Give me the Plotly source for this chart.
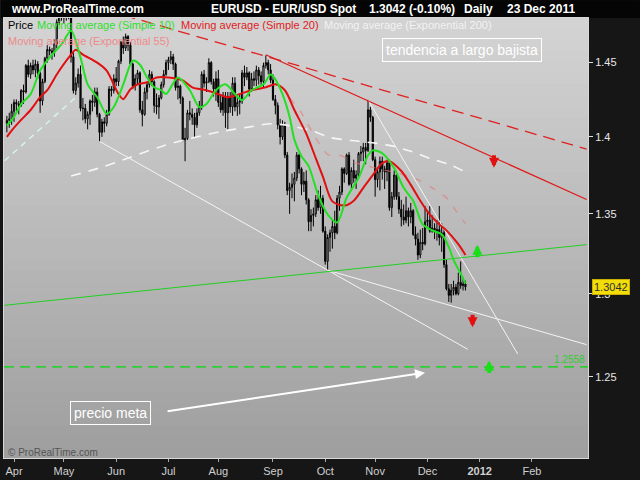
import math
import pandas as pd
import plotly.graph_objects as go

# ---------------- data ----------------
first_day = "2011-03-29"
last_day = "2011-12-23"

opens = [1.4090, 1.4110, 1.4120,
         1.4170, 1.4230, 1.4220, 1.4210, 1.4310, 1.4300, 1.4480, 1.4420, 1.4480, 1.4450, 1.4490, 1.4430, 1.4240, 1.4370, 1.4530, 1.4590, 1.4580, 1.4570, 1.4630, 1.4780, 1.4830,
         1.4810, 1.4840, 1.4820, 1.4830, 1.4540, 1.4310, 1.4360, 1.4420, 1.4190, 1.4190, 1.4120, 1.4150, 1.4240, 1.4230, 1.4300, 1.4150, 1.4030, 1.4100, 1.4090, 1.4150, 1.4320, 1.4310,
         1.4390, 1.4370, 1.4510, 1.4640, 1.4600, 1.4680, 1.4620, 1.4490, 1.4340, 1.4390, 1.4430, 1.4180, 1.4150, 1.4300, 1.4350, 1.4420, 1.4370, 1.4210, 1.4200, 1.4260, 1.4350, 1.4420,
         1.4500, 1.4520, 1.4540, 1.4490, 1.4330, 1.4340, 1.4260, 1.3980, 1.3990, 1.4160, 1.4150, 1.4130, 1.4080, 1.4160, 1.4200, 1.4420, 1.4360, 1.4370, 1.4500, 1.4370, 1.4320,
         1.4390, 1.4230, 1.4180, 1.4270, 1.4160, 1.4270, 1.4200, 1.4360, 1.4200, 1.4230, 1.4240, 1.4430, 1.4400, 1.4430, 1.4320, 1.4390, 1.4380, 1.4450, 1.4410, 1.4370, 1.4480, 1.4500, 1.4450,
         1.4380, 1.4250, 1.4210, 1.4080, 1.4000, 1.4080, 1.3880, 1.3650, 1.3670, 1.3690, 1.3730, 1.3880, 1.3790, 1.3690, 1.3710, 1.3590, 1.3450, 1.3490, 1.3500, 1.3590, 1.3540, 1.3600,
         1.3390, 1.3200, 1.3350, 1.3380, 1.3420, 1.3380, 1.3600, 1.3640, 1.3790, 1.3760, 1.3880, 1.3690, 1.3780, 1.3730, 1.3750, 1.3890, 1.3900, 1.3930, 1.3910, 1.4180, 1.4130,
         1.3850, 1.3720, 1.3770, 1.3840, 1.3790, 1.3770, 1.3830, 1.3540, 1.3610, 1.3750, 1.3610, 1.3530, 1.3480, 1.3460, 1.3520, 1.3480, 1.3520, 1.3370, 1.3340, 1.3240, 1.3320, 1.3310,
         1.3450, 1.3460, 1.3390, 1.3410, 1.3390, 1.3400, 1.3350, 1.3380, 1.3180, 1.3030, 1.2990, 1.3020, 1.3040, 1.3000, 1.3070, 1.3050, 1.3060]

highs = [1.4140, 1.4160, 1.4220,
         1.4250, 1.4250, 1.4240, 1.4320, 1.4350, 1.4490, 1.4520, 1.4500, 1.4520, 1.4520, 1.4510, 1.4440, 1.4390, 1.4540, 1.4620, 1.4610, 1.4600, 1.4660, 1.4800, 1.4880, 1.4880,
         1.4860, 1.4880, 1.4940, 1.4850, 1.4570, 1.4400, 1.4460, 1.4480, 1.4260, 1.4220, 1.4170, 1.4250, 1.4280, 1.4330, 1.4330, 1.4160, 1.4120, 1.4130, 1.4180, 1.4340, 1.4340, 1.4420,
         1.4470, 1.4520, 1.4650, 1.4680, 1.4700, 1.4690, 1.4640, 1.4500, 1.4420, 1.4450, 1.4440, 1.4240, 1.4330, 1.4370, 1.4450, 1.4440, 1.4380, 1.4290, 1.4280, 1.4370, 1.4450, 1.4520,
         1.4540, 1.4580, 1.4560, 1.4500, 1.4400, 1.4350, 1.4270, 1.4060, 1.4180, 1.4240, 1.4190, 1.4160, 1.4190, 1.4240, 1.4440, 1.4450, 1.4400, 1.4530, 1.4510, 1.4390, 1.4440,
         1.4450, 1.4280, 1.4300, 1.4300, 1.4300, 1.4300, 1.4400, 1.4400, 1.4280, 1.4290, 1.4450, 1.4480, 1.4470, 1.4440, 1.4430, 1.4440, 1.4480, 1.4470, 1.4440, 1.4500, 1.4550, 1.4520, 1.4490,
         1.4420, 1.4280, 1.4230, 1.4120, 1.4110, 1.4100, 1.3900, 1.3700, 1.3760, 1.3770, 1.3900, 1.3890, 1.3800, 1.3770, 1.3780, 1.3600, 1.3530, 1.3540, 1.3620, 1.3650, 1.3680, 1.3620,
         1.3420, 1.3370, 1.3400, 1.3460, 1.3520, 1.3620, 1.3680, 1.3800, 1.3800, 1.3890, 1.3900, 1.3800, 1.3850, 1.3780, 1.3900, 1.3940, 1.3960, 1.3960, 1.4247, 1.4200, 1.4140,
         1.3870, 1.3800, 1.3870, 1.3870, 1.3810, 1.3850, 1.3850, 1.3640, 1.3780, 1.3760, 1.3640, 1.3590, 1.3560, 1.3610, 1.3540, 1.3570, 1.3530, 1.3420, 1.3380, 1.3400, 1.3410, 1.3550,
         1.3520, 1.3550, 1.3490, 1.3440, 1.3460, 1.3550, 1.3440, 1.3400, 1.3210, 1.3060, 1.3060, 1.3080, 1.3060, 1.3130, 1.3200, 1.3100, 1.3080]

lows = [1.4030, 1.4060, 1.4080,
        1.4100, 1.4170, 1.4150, 1.4200, 1.4220, 1.4290, 1.4400, 1.4390, 1.4420, 1.4400, 1.4390, 1.4160, 1.4210, 1.4360, 1.4500, 1.4550, 1.4520, 1.4540, 1.4600, 1.4760, 1.4790,
        1.4770, 1.4790, 1.4800, 1.4500, 1.4290, 1.4280, 1.4330, 1.4170, 1.4110, 1.4090, 1.4050, 1.4080, 1.4170, 1.4200, 1.4130, 1.3970, 1.4000, 1.4030, 1.4070, 1.4140, 1.4270, 1.4290,
        1.4340, 1.4340, 1.4490, 1.4560, 1.4580, 1.4580, 1.4480, 1.4320, 1.4310, 1.4350, 1.4160, 1.4070, 1.4140, 1.4250, 1.4330, 1.4340, 1.4160, 1.4150, 1.4120, 1.4250, 1.4330, 1.4410,
        1.4450, 1.4490, 1.4450, 1.4310, 1.4250, 1.4220, 1.3970, 1.3840, 1.3980, 1.4110, 1.4080, 1.4000, 1.4060, 1.4140, 1.4180, 1.4330, 1.4300, 1.4360, 1.4350, 1.4270, 1.4240,
        1.4200, 1.4160, 1.4140, 1.4060, 1.4050, 1.4160, 1.4140, 1.4170, 1.4140, 1.4150, 1.4220, 1.4340, 1.4380, 1.4270, 1.4300, 1.4340, 1.4340, 1.4350, 1.4350, 1.4330, 1.4460, 1.4420, 1.4360,
        1.4240, 1.4150, 1.4050, 1.3950, 1.3980, 1.3860, 1.3620, 1.3500, 1.3600, 1.3580, 1.3710, 1.3760, 1.3620, 1.3640, 1.3560, 1.3390, 1.3390, 1.3420, 1.3480, 1.3520, 1.3500, 1.3380,
        1.3180, 1.3145, 1.3260, 1.3280, 1.3340, 1.3370, 1.3520, 1.3620, 1.3700, 1.3750, 1.3680, 1.3660, 1.3700, 1.3660, 1.3740, 1.3840, 1.3840, 1.3820, 1.3900, 1.4100, 1.3840,
        1.3610, 1.3670, 1.3650, 1.3720, 1.3660, 1.3710, 1.3520, 1.3480, 1.3590, 1.3590, 1.3500, 1.3420, 1.3430, 1.3440, 1.3420, 1.3440, 1.3360, 1.3300, 1.3210, 1.3220, 1.3270, 1.3300,
        1.3420, 1.3380, 1.3380, 1.3340, 1.3330, 1.3300, 1.3260, 1.3160, 1.3020, 1.2950, 1.2945, 1.2990, 1.2990, 1.2990, 1.3030, 1.3020, 1.3020]

closes = [1.4110, 1.4120, 1.4170,
          1.4230, 1.4220, 1.4210, 1.4310, 1.4300, 1.4480, 1.4420, 1.4480, 1.4450, 1.4490, 1.4430, 1.4240, 1.4370, 1.4530, 1.4590, 1.4580, 1.4570, 1.4630, 1.4780, 1.4830, 1.4810,
          1.4840, 1.4820, 1.4830, 1.4540, 1.4310, 1.4360, 1.4420, 1.4190, 1.4190, 1.4120, 1.4150, 1.4240, 1.4230, 1.4300, 1.4150, 1.4030, 1.4100, 1.4090, 1.4150, 1.4320, 1.4310, 1.4390,
          1.4370, 1.4510, 1.4640, 1.4600, 1.4680, 1.4620, 1.4490, 1.4340, 1.4390, 1.4430, 1.4180, 1.4150, 1.4300, 1.4350, 1.4420, 1.4370, 1.4210, 1.4200, 1.4260, 1.4350, 1.4420, 1.4500,
          1.4520, 1.4540, 1.4490, 1.4330, 1.4340, 1.4260, 1.3980, 1.3990, 1.4160, 1.4150, 1.4130, 1.4080, 1.4160, 1.4200, 1.4420, 1.4360, 1.4370, 1.4500, 1.4370, 1.4320, 1.4390,
          1.4230, 1.4180, 1.4270, 1.4160, 1.4270, 1.4200, 1.4360, 1.4200, 1.4230, 1.4240, 1.4430, 1.4400, 1.4430, 1.4320, 1.4390, 1.4380, 1.4450, 1.4410, 1.4370, 1.4480, 1.4500, 1.4450, 1.4380,
          1.4250, 1.4210, 1.4080, 1.4000, 1.4080, 1.3880, 1.3650, 1.3670, 1.3690, 1.3730, 1.3880, 1.3790, 1.3690, 1.3710, 1.3590, 1.3450, 1.3490, 1.3500, 1.3590, 1.3540, 1.3600, 1.3390,
          1.3200, 1.3350, 1.3380, 1.3420, 1.3380, 1.3600, 1.3640, 1.3790, 1.3760, 1.3880, 1.3690, 1.3780, 1.3730, 1.3750, 1.3890, 1.3900, 1.3930, 1.3910, 1.4180, 1.4130, 1.3850,
          1.3720, 1.3770, 1.3840, 1.3790, 1.3770, 1.3830, 1.3540, 1.3610, 1.3750, 1.3610, 1.3530, 1.3480, 1.3460, 1.3520, 1.3480, 1.3520, 1.3370, 1.3340, 1.3240, 1.3320, 1.3310, 1.3450,
          1.3460, 1.3390, 1.3410, 1.3390, 1.3400, 1.3350, 1.3380, 1.3180, 1.3030, 1.2990, 1.3020, 1.3040, 1.3000, 1.3070, 1.3050, 1.3060, 1.3042]

sma10_dates = ["2011-03-29", "2011-04-01", "2011-04-06", "2011-04-12", "2011-04-18", "2011-04-25", "2011-04-29",
               "2011-05-05", "2011-05-11", "2011-05-16", "2011-05-20", "2011-05-26", "2011-05-31", "2011-06-06",
               "2011-06-10", "2011-06-15", "2011-06-20", "2011-06-23", "2011-06-28", "2011-06-30", "2011-07-07",
               "2011-07-14", "2011-07-20", "2011-07-25", "2011-07-29", "2011-08-04", "2011-08-10", "2011-08-15",
               "2011-08-19", "2011-08-26", "2011-08-31", "2011-09-02", "2011-09-07", "2011-09-12", "2011-09-14",
               "2011-09-19", "2011-09-22", "2011-09-28", "2011-10-04", "2011-10-10", "2011-10-14", "2011-10-21",
               "2011-10-27", "2011-10-31", "2011-11-04", "2011-11-11", "2011-11-17", "2011-11-23", "2011-11-29",
               "2011-12-05", "2011-12-09", "2011-12-14", "2011-12-16", "2011-12-21", "2011-12-23"]
sma10_values = [1.4075, 1.4133, 1.4219, 1.4286, 1.4446, 1.4555, 1.4625,
                1.4720, 1.4534, 1.4352, 1.4265, 1.4153, 1.4199, 1.4352,
                1.4513, 1.4486, 1.4399, 1.4332, 1.4312, 1.4286, 1.4399,
                1.4312, 1.4199, 1.4219, 1.4312, 1.4352, 1.4286, 1.4245,
                1.4312, 1.4352, 1.4419, 1.4386, 1.4286, 1.4133, 1.3982,
                1.3872, 1.3808, 1.3622, 1.3496, 1.3445, 1.3603, 1.3731,
                1.3879, 1.3911, 1.3892, 1.3795, 1.3667, 1.3584, 1.3433,
                1.3395, 1.3370, 1.3289, 1.3209, 1.3124, 1.3063]

sma20_dates = ["2011-03-29", "2011-03-31", "2011-04-06", "2011-04-12", "2011-04-18", "2011-04-21", "2011-04-27",
               "2011-05-04", "2011-05-09", "2011-05-12", "2011-05-20", "2011-05-26", "2011-06-02", "2011-06-06",
               "2011-06-09", "2011-06-14", "2011-06-20", "2011-06-24", "2011-07-01", "2011-07-11", "2011-07-15",
               "2011-07-25", "2011-08-01", "2011-08-05", "2011-08-12", "2011-08-19", "2011-08-29", "2011-09-02",
               "2011-09-08", "2011-09-14", "2011-09-21", "2011-09-27", "2011-09-30", "2011-10-06", "2011-10-13",
               "2011-10-19", "2011-10-25", "2011-10-31", "2011-11-04", "2011-11-09", "2011-11-16", "2011-11-22",
               "2011-11-28", "2011-12-02", "2011-12-08", "2011-12-13", "2011-12-20", "2011-12-23"]
sma20_values = [1.4000, 1.4042, 1.4113, 1.4179, 1.4265, 1.4312, 1.4419,
                1.4534, 1.4589, 1.4555, 1.4500, 1.4446, 1.4286, 1.4252,
                1.4319, 1.4352, 1.4366, 1.4399, 1.4399, 1.4379, 1.4332,
                1.4312, 1.4286, 1.4265, 1.4286, 1.4312, 1.4332, 1.4352,
                1.4312, 1.4179, 1.4022, 1.3860, 1.3740, 1.3580, 1.3553,
                1.3584, 1.3667, 1.3750, 1.3827, 1.3840, 1.3776, 1.3686,
                1.3584, 1.3496, 1.3433, 1.3395, 1.3308, 1.3240]

ema55_dates = ["2011-09-12", "2011-09-19", "2011-09-26", "2011-10-04", "2011-10-12", "2011-10-17", "2011-10-31",
               "2011-11-15", "2011-11-25", "2011-12-05", "2011-12-13", "2011-12-16", "2011-12-23"]
ema55_values = [1.4260, 1.4160, 1.4020, 1.3885, 1.3875, 1.3845, 1.3800,
                1.3760, 1.3720, 1.3667, 1.3603, 1.3540, 1.3438]

ema200_dates = ["2011-05-05", "2011-05-24", "2011-06-09", "2011-06-28", "2011-07-14", "2011-08-02", "2011-08-19",
                "2011-08-31", "2011-09-12", "2011-09-23", "2011-10-05", "2011-10-18", "2011-10-28", "2011-11-09",
                "2011-11-22", "2011-12-02", "2011-12-15", "2011-12-23"]
ema200_values = [1.3743, 1.3801, 1.3866, 1.3937, 1.3989, 1.4035, 1.4068,
                 1.4087, 1.4074, 1.4042, 1.3996, 1.3976, 1.3963, 1.3944,
                 1.3905, 1.3859, 1.3814, 1.3769]

# hand-drawn trend lines (endpoints: date, price)
red_dashed_dates = ["2011-05-04", "2012-03-05"]
red_dashed_prices = [1.4940, 1.3920]
red_solid_dates = ["2011-08-29", "2012-03-05"]
red_solid_prices = [1.4554, 1.3592]
green_line_dates = ["2011-03-28", "2012-03-05"]
green_line_prices = [1.2929, 1.3305]
white_a_dates = ["2011-05-23", "2011-12-26"]
white_a_prices = [1.3970, 1.2663]
white_b_dates = ["2011-10-04", "2012-03-05"]
white_b_prices = [1.3145, 1.2691]
white_c_dates = ["2011-10-27", "2012-01-24"]
white_c_prices = [1.4247, 1.2635]
cyan_dates = ["2011-03-28", "2011-05-10"]
cyan_prices = [1.3843, 1.4278]
target_price = 1.2558
last_price = 1.3042

arrow_down_dates = ["2012-01-10", "2011-12-28"]
arrow_down_prices = [1.3798, 1.2796]
arrow_up_dates = ["2011-12-30", "2012-01-06"]
arrow_up_prices = [1.3305, 1.2596]

meta_arrow_tail = ("2011-06-30", 1.2297)
meta_arrow_head = ("2011-11-30", 1.2524)

month_ticks = ["2011-04-01", "2011-05-02", "2011-06-01", "2011-07-01", "2011-08-01", "2011-09-01",
               "2011-10-03", "2011-11-01", "2011-12-01", "2012-01-02", "2012-02-01"]
month_labels = ["Apr", "May", "Jun", "Jul", "Aug", "Sep", "Oct", "Nov", "Dec", "<b>2012</b>", "Feb"]
price_ticks = [1.25, 1.3, 1.35, 1.4, 1.45]
price_labels = ["1.25", "1.3", "1.35", "1.4", "1.45"]

x_range = ["2011-03-25 19:00", "2012-03-05 14:00"]
y_range = [1.2029, 1.4809]

# ---------------- figure ----------------
W, H = 640, 480
ML, MR, MT, MB = 3, 52, 18, 18
PW, PH = W - ML - MR, H - MT - MB
FONT = "Liberation Sans, Arial, sans-serif"


def px(x):
    return (x - ML) / PW


def py(y):
    return 1 - (y - MT) / PH


dates = pd.bdate_range(first_day, last_day)

fig = go.Figure()
fig.add_trace(go.Candlestick(
    x=dates, open=opens, high=highs, low=lows, close=closes,
    increasing=dict(line=dict(color="#000000", width=1), fillcolor="#f4f4f4"),
    decreasing=dict(line=dict(color="#000000", width=1), fillcolor="#111111"),
    whiskerwidth=0, showlegend=False, hoverinfo="skip"))


def line(xs, ys, color, width=1, dash=None, shape="linear"):
    fig.add_trace(go.Scatter(x=xs, y=ys, mode="lines", showlegend=False, hoverinfo="skip",
                             line=dict(color=color, width=width, dash=dash, shape=shape, smoothing=0.8)))


line(cyan_dates, cyan_prices, "#d4f2ee", 1.5, "6px,5px")
line(ema200_dates, ema200_values, "#f6f6f6", 1.6, "10px,8px", "spline")
line(ema55_dates, ema55_values, "rgba(232,120,120,0.65)", 1.3, "7px,9px", "spline")
line(white_a_dates, white_a_prices, "#f4f4f4", 1)
line(white_b_dates, white_b_prices, "#f4f4f4", 1)
line(white_c_dates, white_c_prices, "#f4f4f4", 1)
line(green_line_dates, green_line_prices, "#22d022", 1)
line([x_range[0], x_range[1]], [target_price, target_price], "#33cc33", 1.6, "10px,6px")
line(red_dashed_dates, red_dashed_prices, "#e02020", 1.3, "12px,7px")
line(red_solid_dates, red_solid_prices, "#e01818", 1.2)
line(sma20_dates, sma20_values, "#e01010", 2, None, "spline")
line(sma10_dates, sma10_values, "#22e022", 2, None, "spline")

# background gradient of the plot area
shapes = []
N = 40
top_c, bot_c = (212, 212, 212), (158, 158, 158)
for i in range(N):
    t = (i + 0.5) / N
    c = tuple(int(round(top_c[k] + (bot_c[k] - top_c[k]) * t)) for k in range(3))
    shapes.append(dict(type="rect", xref="paper", yref="paper", x0=0, x1=1,
                       y0=1 - (i + 1) / N, y1=1 - i / N, line=dict(width=0),
                       fillcolor="rgb(%d,%d,%d)" % c, layer="below"))
# header band
shapes.append(dict(type="rect", xref="paper", yref="paper", x0=px(0), x1=px(W), y0=1, y1=py(0),
                   line=dict(width=0), fillcolor="#050505", layer="below"))

ann = []


def text(x, y, s, color, size=11, anchor="left", bold=False, yanchor="middle"):
    ann.append(dict(xref="paper", yref="paper", x=px(x), y=py(y), text=("<b>%s</b>" % s) if bold else s,
                    showarrow=False, xanchor=anchor, yanchor=yanchor,
                    font=dict(family=FONT, size=size, color=color)))


text(8, 9, "www.ProRealTime.com", "#ffffff", 12, bold=True)
text(208, 9, "EURUSD - EUR/USD Spot", "#ffffff", 12, bold=True)
text(367, 9, "1.3042 (-0.10%)", "#ffffff", 12, bold=True)
text(462, 9, "Daily", "#ffffff", 12, bold=True)
text(505, 9, "23 Dec 2011", "#ffffff", 12, bold=True)

text(5, 25, "Price", "#000000", 11)
text(34, 25, "Moving average (Simple 10)", "#2ee02e", 11)
text(178, 25, "Moving average (Simple 20)", "#e01c1c", 11)
text(322, 25, "Moving average (Exponential 200)", "#f2f2f2", 11)
text(5, 41, "Moving average (Exponential 55)", "#ee8a8a", 11)
text(5, 456, "© ProRealTime.com", "#555555", 10)

for s, cx, cy in [("tendencia a largo bajista", 461.5, 50), ("precio meta", 110, 416.5)]:
    ann.append(dict(xref="paper", yref="paper", x=px(cx), y=py(cy), text=s, showarrow=False,
                    xanchor="center", yanchor="middle", bordercolor="#ffffff", borderwidth=1, borderpad=3,
                    font=dict(family=FONT, size=14, color="#ffffff")))

# white arrow to the target price
ann.append(dict(x=meta_arrow_head[0], y=math.log10(meta_arrow_head[1]), xref="x", yref="y",
                ax=meta_arrow_tail[0], ay=math.log10(meta_arrow_tail[1]), axref="x", ayref="y",
                showarrow=True, arrowhead=2, arrowsize=1, arrowwidth=2, arrowcolor="#ffffff", text=""))

for d, p in zip(arrow_down_dates, arrow_down_prices):
    ann.append(dict(x=d, y=math.log10(p), xref="x", yref="y", ax=0, ay=-14, showarrow=True,
                    arrowhead=2, arrowsize=0.5, arrowwidth=4, arrowcolor="#e21010", text=""))
for d, p in zip(arrow_up_dates, arrow_up_prices):
    ann.append(dict(x=d, y=math.log10(p), xref="x", yref="y", ax=0, ay=14, showarrow=True,
                    arrowhead=2, arrowsize=0.5, arrowwidth=4, arrowcolor="#18e018", text=""))

# level labels
ann.append(dict(xref="paper", yref="y", x=1, y=math.log10(target_price), xanchor="right", yanchor="bottom",
                xshift=-1, text="%.4f" % target_price, showarrow=False,
                font=dict(family=FONT, size=10, color="#33cc33")))
ann.append(dict(xref="paper", yref="y", x=1, y=math.log10(last_price), xanchor="left", yanchor="middle",
                xshift=4, text="%.4f" % last_price, showarrow=False, bgcolor="#f2dc0a",
                bordercolor="#c8b000", borderwidth=1, borderpad=1,
                font=dict(family=FONT, size=11, color="#303030")))

fig.update_layout(
    width=W, height=H, autosize=False,
    margin=dict(l=ML, r=MR, t=MT, b=MB, pad=0),
    paper_bgcolor="#161616", plot_bgcolor="#b8b8b8",
    shapes=shapes, annotations=ann, showlegend=False, hovermode=False,
    xaxis=dict(type="date", range=x_range, rangebreaks=[dict(bounds=["sat", "mon"])],
               rangeslider=dict(visible=False), tickvals=month_ticks, ticktext=month_labels,
               showgrid=False, zeroline=False, ticks="outside", ticklen=3, tickcolor="#aaaaaa",
               tickfont=dict(family=FONT, size=11, color="#d0d0d0"),
               showline=True, linecolor="#d8d8d8", linewidth=1, mirror=True),
    yaxis=dict(type="log", side="right", range=[math.log10(y_range[0]), math.log10(y_range[1])],
               tickvals=price_ticks, ticktext=price_labels, showgrid=False, zeroline=False,
               ticks="outside", ticklen=4, tickcolor="#dddddd",
               tickfont=dict(family=FONT, size=11, color="#e8e8e8"),
               showline=True, linecolor="#d8d8d8", linewidth=1, mirror=True),
)

fig.write_html("out.html", config={"displayModeBar": False},
               post_script="document.body.style.margin='0px';document.body.style.background='#161616';")
